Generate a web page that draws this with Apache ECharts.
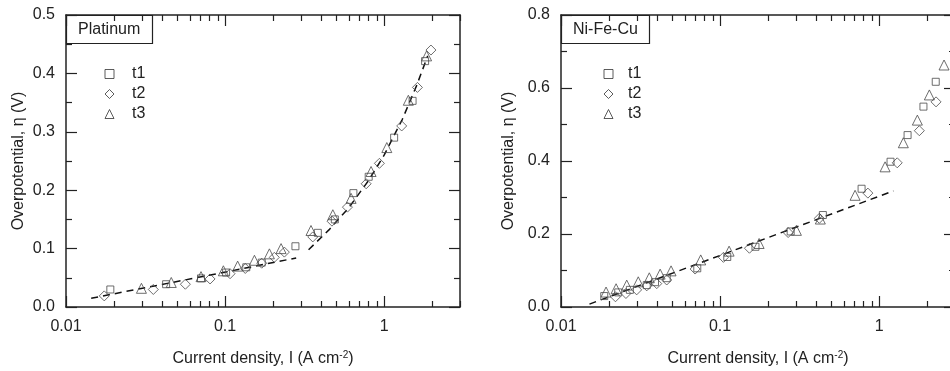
<!DOCTYPE html>
<html>
<head>
<meta charset="utf-8">
<script src="https://cdn.jsdelivr.net/npm/echarts@6/dist/echarts.min.js"></script>
<style>
  html, body { margin: 0; padding: 0; background: #fff; }
  #chart { width: 950px; height: 371px; }
</style>
</head>
<body>
<div id="chart"></div>
<script>
// log axis ticks (A cm-2)
const majorTicks = [0.01, 0.1, 1];
const minorTicks = [0.02, 0.03, 0.04, 0.05, 0.06, 0.07, 0.08, 0.09,
    0.2, 0.3, 0.4, 0.5, 0.6, 0.7, 0.8, 0.9, 2, 3];
const panelNames = ['Platinum', 'Ni-Fe-Cu'];
const runNames = ['t1', 't2', 't3'];
const etaMax = [0.5, 0.8];
const etaStep = [0.1, 0.2];

// Platinum: [current density, overpotential]
const ptT1 = [[0.019, 0.030], [0.0426, 0.039], [0.0706, 0.049], [0.1015, 0.059], [0.136, 0.068],
    [0.170, 0.076], [0.277, 0.104], [0.383, 0.127], [0.49, 0.150], [0.641, 0.195], [0.80, 0.223],
    [1.156, 0.290], [1.51, 0.353], [1.81, 0.421]];
const ptT2 = [[0.0174, 0.019], [0.0354, 0.030], [0.0563, 0.039], [0.0805, 0.048], [0.1075, 0.057],
    [0.134, 0.066], [0.170, 0.075], [0.204, 0.085], [0.236, 0.094], [0.356, 0.120], [0.47, 0.147],
    [0.588, 0.171], [0.771, 0.211], [0.934, 0.246], [1.29, 0.310], [1.62, 0.376], [1.97, 0.440]];
const ptT3 = [[0.0298, 0.032], [0.0459, 0.042], [0.0706, 0.052], [0.0976, 0.062], [0.120, 0.070],
    [0.153, 0.080], [0.190, 0.091], [0.225, 0.100], [0.347, 0.131], [0.476, 0.158], [0.620, 0.186],
    [0.828, 0.232], [1.04, 0.273], [1.42, 0.354], [1.85, 0.430]];
const ptFitLow = [[0.0144, 0.015], [0.097, 0.059], [0.28, 0.084]];
const ptFitHigh = [[0.335, 0.098], [0.45, 0.132], [0.6, 0.170], [0.8, 0.217], [1.0, 0.260],
    [1.3, 0.321], [1.6, 0.379], [1.88, 0.430]];

// Ni-Fe-Cu
const niT1 = [[0.0187, 0.030], [0.0229, 0.040], [0.0271, 0.047], [0.0346, 0.060], [0.0390, 0.068],
    [0.0462, 0.079], [0.0719, 0.106], [0.111, 0.137], [0.167, 0.165], [0.278, 0.207], [0.443, 0.252],
    [0.776, 0.324], [1.18, 0.398], [1.51, 0.471], [1.90, 0.549], [2.27, 0.617]];
const niT2 = [[0.0220, 0.028], [0.0256, 0.037], [0.0299, 0.047], [0.0346, 0.058], [0.0400, 0.064],
    [0.0462, 0.074], [0.0697, 0.104], [0.105, 0.136], [0.153, 0.161], [0.268, 0.204], [0.421, 0.243],
    [0.85, 0.312], [1.30, 0.395], [1.79, 0.483], [2.28, 0.562]];
const niT3 = [[0.0192, 0.041], [0.0222, 0.050], [0.0259, 0.060], [0.0306, 0.069], [0.0359, 0.080],
    [0.0420, 0.090], [0.0492, 0.099], [0.0756, 0.129], [0.114, 0.153], [0.176, 0.174], [0.302, 0.210],
    [0.427, 0.241], [0.706, 0.306], [1.09, 0.384], [1.42, 0.450], [1.74, 0.512], [2.07, 0.581],
    [2.56, 0.663]];
const niFit = [[0.0151, 0.008], [1.23, 0.318]];

const panelData = [[ptT1, ptT2, ptT3], [niT1, niT2, niT3]];
const panelFits = [[ptFitLow, ptFitHigh], [niFit]];

const font = 'Liberation Sans, Arial, sans-serif';
const ink = '#222';
const markerInk = '#4a4a4a';
const fs = 16;
const symbols = ['rect', 'diamond', 'triangle'];
const symbolSizes = [7, 10, 10];
const gridLeft = [66, 561];

const tickLine = { color: ink, width: 1.2 };

function xAxesFor(g) {
    const base = {
        type: 'log', logBase: 10, min: 0.01, max: 3, gridIndex: g,
        splitLine: { show: false },
        axisLine: { show: true, lineStyle: { color: ink, width: 1.5 } },
        axisLabel: { show: false }
    };
    return [
        Object.assign({}, base, {
            position: 'bottom',
            axisTick: { inside: true, length: 11, customValues: majorTicks, lineStyle: tickLine },
            axisLabel: {
                customValues: majorTicks, margin: 12, fontSize: fs, color: ink, fontFamily: font,
                formatter: v => String(+v.toPrecision(3))
            },
            name: 'Current density, I (A cm{sup|-2})',
            nameLocation: 'middle', nameGap: 43,
            nameTextStyle: {
                fontSize: fs, color: ink, fontFamily: font,
                rich: { sup: { fontSize: 10, color: ink, fontFamily: font, verticalAlign: 'top', padding: [0, 0, 8, 0] } }
            }
        }),
        Object.assign({}, base, {
            position: 'bottom', axisLine: { show: false },
            axisTick: { inside: true, length: 6, customValues: minorTicks, lineStyle: tickLine }
        }),
        Object.assign({}, base, {
            position: 'top',
            axisTick: { inside: true, length: 11, customValues: majorTicks, lineStyle: tickLine }
        }),
        Object.assign({}, base, {
            position: 'top', axisLine: { show: false },
            axisTick: { inside: true, length: 6, customValues: minorTicks, lineStyle: tickLine }
        })
    ];
}

function yAxesFor(g) {
    const base = {
        type: 'value', min: 0, max: etaMax[g], interval: etaStep[g], gridIndex: g,
        splitLine: { show: false },
        axisLine: { show: true, lineStyle: { color: ink, width: 1.5 } },
        axisTick: { inside: true, length: 11, lineStyle: tickLine },
        minorTick: { show: true, splitNumber: 2, length: 6, lineStyle: tickLine }
    };
    return [
        Object.assign({}, base, {
            position: 'left',
            axisLabel: { margin: 11, fontSize: fs, color: ink, fontFamily: font, formatter: v => v.toFixed(1) },
            name: 'Overpotential, \u03b7 (V)', nameLocation: 'middle', nameGap: g === 0 ? 39 : 44,
            nameTextStyle: { fontSize: fs, color: ink, fontFamily: font }
        }),
        Object.assign({}, base, { position: 'right', axisLabel: { show: false } })
    ];
}

const series = [];
panelFits.forEach((fits, g) => {
    fits.forEach(seg => series.push({
        type: 'line', name: 'fit', data: seg, xAxisIndex: 4 * g, yAxisIndex: 2 * g,
        symbol: 'none', silent: true, z: 1,
        lineStyle: { color: '#111', width: 1.5, type: [7, 5] }
    }));
});
panelData.forEach((runs, g) => {
    runs.forEach((pts, i) => series.push({
        type: 'scatter', name: runNames[i], data: pts, xAxisIndex: 4 * g, yAxisIndex: 2 * g,
        symbol: symbols[i], symbolSize: symbolSizes[i], z: 3,
        itemStyle: { color: 'rgba(255,255,255,0)', borderColor: markerInk, borderWidth: 1 },
        emphasis: { disabled: true }
    }));
});

const chart = echarts.init(document.getElementById('chart'), null, { renderer: 'canvas' });
chart.setOption({
    animation: false,
    backgroundColor: '#fff',
    textStyle: { fontFamily: font },
    title: panelNames.map((t, g) => ({
        text: t, left: gridLeft[g], top: 15,
        padding: [7, 12, 6, 12],
        borderColor: ink, borderWidth: 1.2,
        textStyle: { fontSize: fs, fontWeight: 'normal', color: ink, fontFamily: font }
    })),
    legend: panelNames.map((t, g) => ({
        data: runNames, orient: 'vertical',
        left: g === 0 ? 99.5 : 598.5, top: 61,
        itemWidth: 9, itemHeight: 9, itemGap: 4,
        selectedMode: false,
        itemStyle: { color: 'rgba(255,255,255,0)', borderColor: '#333', borderWidth: 1 },
        textStyle: { fontSize: fs, color: ink, fontFamily: font, padding: [0, 0, 0, g === 0 ? 13 : 10] }
    })),
    grid: gridLeft.map(l => ({ left: l, top: 15, width: 394, height: 292, outerBoundsMode: 'none' })),
    xAxis: xAxesFor(0).concat(xAxesFor(1)),
    yAxis: yAxesFor(0).concat(yAxesFor(1)),
    series: series
});
</script>
</body>
</html>
